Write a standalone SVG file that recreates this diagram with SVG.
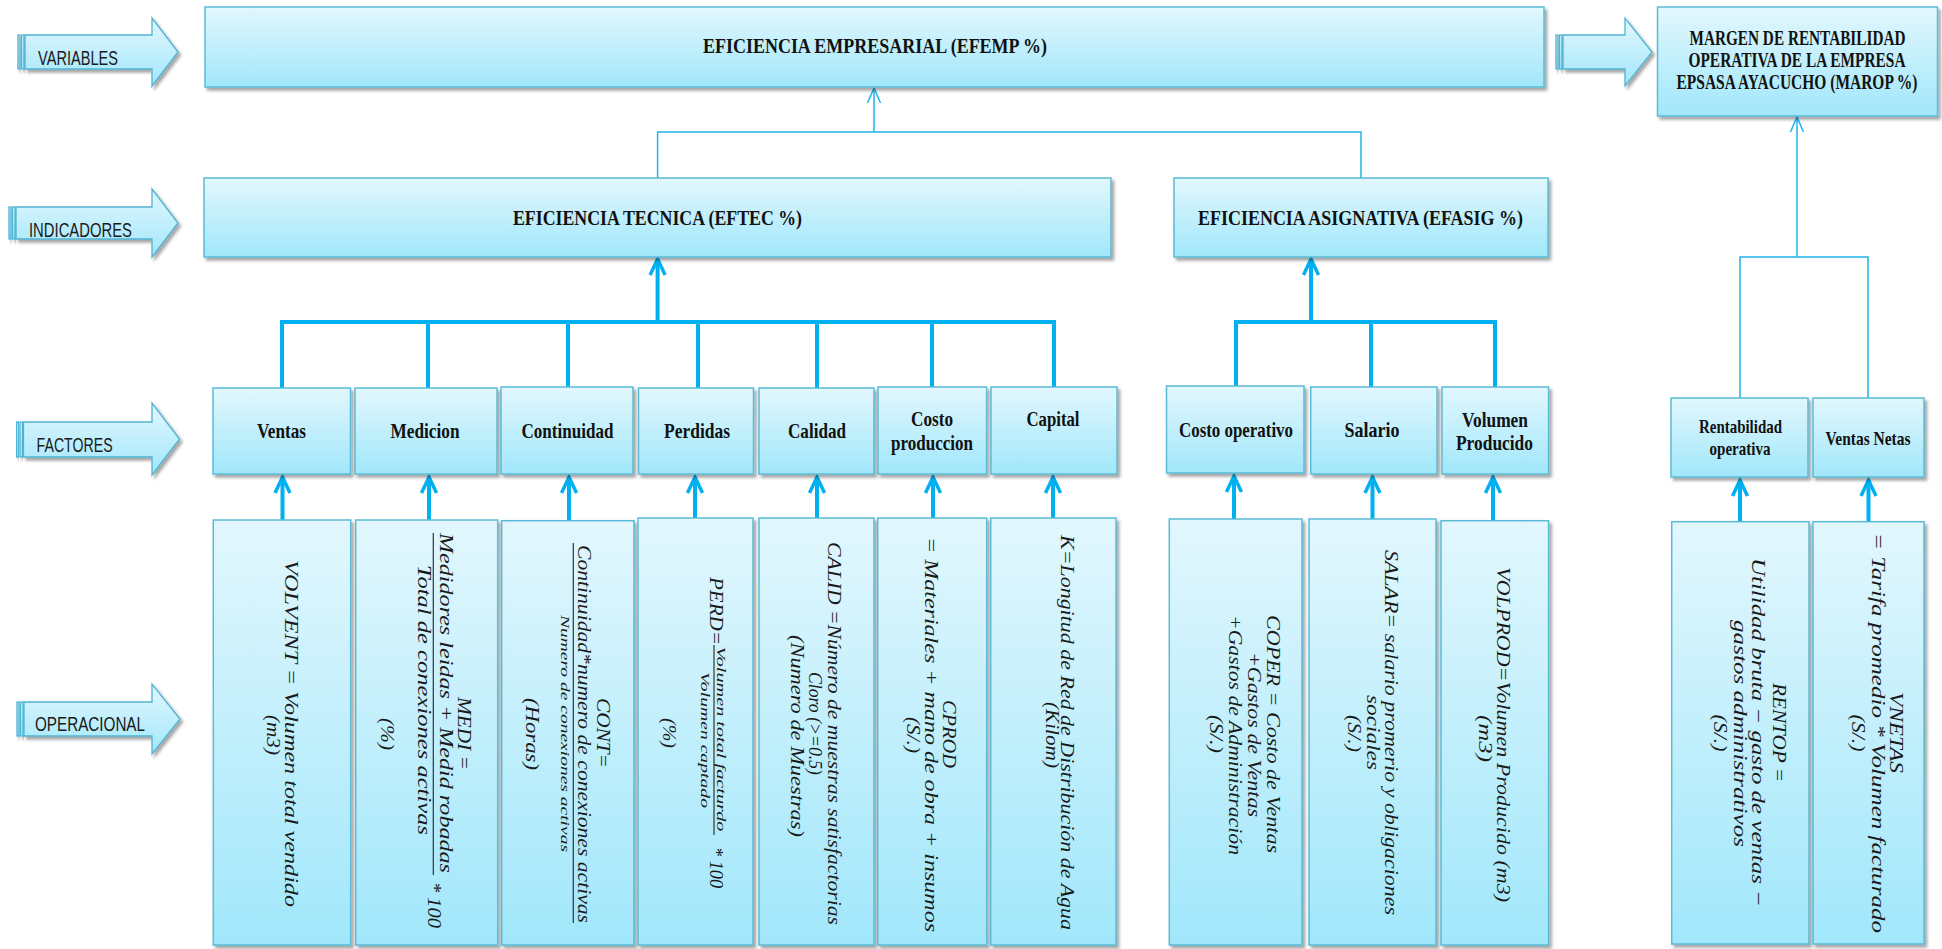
<svg xmlns="http://www.w3.org/2000/svg" width="1942" height="949" viewBox="0 0 1942 949">
<defs>
<linearGradient id="g" x1="0" y1="0" x2="0" y2="1">
<stop offset="0" stop-color="#e2f7fd"/>
<stop offset="1" stop-color="#a1e7fb"/>
</linearGradient>
<filter id="sh" x="-10%" y="-10%" width="130%" height="130%">
<feDropShadow dx="2.5" dy="3" stdDeviation="1.8" flood-color="#000" flood-opacity="0.35"/>
</filter>
<marker id="ah" markerUnits="userSpaceOnUse" markerWidth="40" markerHeight="40" viewBox="-20 -20 40 40" refX="0" refY="0" orient="auto" overflow="visible">
<path d="M -16 -7.5 L 0 0 L -16 7.5" fill="none" stroke="#00b0f0" stroke-width="3.5"/>
</marker>
<marker id="at" markerUnits="userSpaceOnUse" markerWidth="40" markerHeight="40" viewBox="-20 -20 40 40" refX="0" refY="0" orient="auto" overflow="visible">
<path d="M -15 -6.5 L 0 0 L -15 6.5" fill="none" stroke="#1fb4ea" stroke-width="1.5"/>
</marker>
</defs>
<style>
.box{fill:url(#g);stroke:#5bbad6;stroke-width:1.5;filter:url(#sh)}
.blk{fill:url(#g);stroke:#4fb3d2;stroke-width:1.3;filter:url(#sh)}
.t{font-family:"Liberation Serif","Times New Roman",serif;font-weight:bold;fill:#111;text-anchor:middle}
.m{font-family:"Liberation Serif","Times New Roman",serif;font-style:italic;fill:#1a1a1a;text-anchor:middle;font-size:19.5px}
.s{font-size:13px}
.lbl{font-family:"Liberation Sans",Arial,sans-serif;fill:#1a1a1a;font-size:20px}
.thick{stroke:#00b0f0;stroke-width:4;fill:none}
.thin{stroke:#1fb4ea;stroke-width:1.5;fill:none}
.bar{stroke:#333;stroke-width:1.2}
</style>
<rect width="1942" height="949" fill="#fff"/>

<!-- level arrows -->
<g id="arrow-variables">
<rect class="blk" x="18" y="35" width="2" height="34"/>
<rect class="blk" x="21.5" y="35" width="2.5" height="34"/>
<path class="blk" d="M25,35 H152 V18 L178,52 L152,86 V69 H25 Z"/>
<text class="lbl" x="38" y="65" textLength="80" lengthAdjust="spacingAndGlyphs">VARIABLES</text>
</g>
<g id="arrow-indicadores">
<rect class="blk" x="9" y="207" width="2" height="32"/>
<rect class="blk" x="12.5" y="207" width="2.5" height="32"/>
<path class="blk" d="M16,207 H152 V189 L178,223 L152,257 V239 H16 Z"/>
<text class="lbl" x="29" y="237" textLength="103" lengthAdjust="spacingAndGlyphs">INDICADORES</text>
</g>
<g id="arrow-factores">
<rect class="blk" x="16.5" y="422" width="2" height="35"/>
<rect class="blk" x="20" y="422" width="2.5" height="35"/>
<path class="blk" d="M23.5,422 H152 V403 L179.5,439 L152,475 V457 H23.5 Z"/>
<text class="lbl" x="36.6" y="452" textLength="76" lengthAdjust="spacingAndGlyphs">FACTORES</text>
</g>
<g id="arrow-operacional">
<rect class="blk" x="17" y="702" width="2" height="34"/>
<rect class="blk" x="20.5" y="702" width="2.5" height="34"/>
<path class="blk" d="M24,702 H152 V684 L180,719 L152,754 V736 H24 Z"/>
<text class="lbl" x="35" y="731" textLength="110" lengthAdjust="spacingAndGlyphs">OPERACIONAL</text>
</g>
<g id="arrow-marop">
<rect class="blk" x="1556" y="35" width="2" height="34"/>
<rect class="blk" x="1559.5" y="35" width="2.5" height="34"/>
<path class="blk" d="M1563,35 H1625 V18 L1652,52 L1625,86 V69 H1563 Z"/>
</g>

<!-- connectors -->
<g id="connectors">
<polyline class="thin" points="657.6,178 657.6,132 1361,132 1361,178"/>
<line class="thin" x1="874" y1="132" x2="874" y2="88" marker-end="url(#at)"/>
<polyline class="thin" points="1740,398 1740,257 1868,257 1868,398"/>
<line class="thin" x1="1797" y1="257" x2="1797" y2="117" marker-end="url(#at)"/>

<line class="thick" x1="657.6" y1="322" x2="657.6" y2="259" marker-end="url(#ah)"/>
<polyline class="thick" points="282,388 282,322 1054,322 1054,387"/>
<line class="thick" x1="428" y1="322" x2="428" y2="388"/>
<line class="thick" x1="568" y1="322" x2="568" y2="387"/>
<line class="thick" x1="698" y1="322" x2="698" y2="388"/>
<line class="thick" x1="817" y1="322" x2="817" y2="388"/>
<line class="thick" x1="932" y1="322" x2="932" y2="387"/>

<line class="thick" x1="1311" y1="322" x2="1311" y2="259" marker-end="url(#ah)"/>
<polyline class="thick" points="1236,386 1236,322 1495,322 1495,387"/>
<line class="thick" x1="1371" y1="322" x2="1371" y2="388"/>

<line class="thick" x1="282.5" y1="520" x2="282.5" y2="477" marker-end="url(#ah)"/>
<line class="thick" x1="429" y1="520" x2="429" y2="477" marker-end="url(#ah)"/>
<line class="thick" x1="569" y1="520" x2="569" y2="477" marker-end="url(#ah)"/>
<line class="thick" x1="695" y1="518" x2="695" y2="477" marker-end="url(#ah)"/>
<line class="thick" x1="817" y1="518" x2="817" y2="477" marker-end="url(#ah)"/>
<line class="thick" x1="933" y1="518" x2="933" y2="477" marker-end="url(#ah)"/>
<line class="thick" x1="1053" y1="518" x2="1053" y2="477" marker-end="url(#ah)"/>
<line class="thick" x1="1234" y1="519" x2="1234" y2="476" marker-end="url(#ah)"/>
<line class="thick" x1="1372.5" y1="519" x2="1372.5" y2="477" marker-end="url(#ah)"/>
<line class="thick" x1="1493" y1="520" x2="1493" y2="477" marker-end="url(#ah)"/>
<line class="thick" x1="1740" y1="521" x2="1740" y2="480" marker-end="url(#ah)"/>
<line class="thick" x1="1868.5" y1="521" x2="1868.5" y2="480" marker-end="url(#ah)"/>
</g>

<!-- variables / indicadores -->
<g id="n-efemp">
<rect class="box" x="205" y="7" width="1339" height="80"/>
<text class="t" x="875" y="53" font-size="22" textLength="344" lengthAdjust="spacingAndGlyphs">EFICIENCIA  EMPRESARIAL (EFEMP %)</text>
</g>
<g id="n-marop">
<rect class="box" x="1657.5" y="7" width="280" height="109"/>
<text class="t" transform="translate(1797.5,45) scale(1,1.18)" font-size="17" textLength="216" lengthAdjust="spacingAndGlyphs">MARGEN DE RENTABILIDAD</text>
<text class="t" transform="translate(1797,67) scale(1,1.18)" font-size="17" textLength="217" lengthAdjust="spacingAndGlyphs">OPERATIVA DE LA EMPRESA</text>
<text class="t" transform="translate(1797,89) scale(1,1.18)" font-size="17" textLength="241" lengthAdjust="spacingAndGlyphs">EPSASA AYACUCHO (MAROP %)</text>
</g>
<g id="n-eftec">
<rect class="box" x="204" y="178" width="907" height="79"/>
<text class="t" x="657.5" y="225" font-size="22" textLength="289" lengthAdjust="spacingAndGlyphs">EFICIENCIA TECNICA (EFTEC %)</text>
</g>
<g id="n-efasig">
<rect class="box" x="1174" y="178" width="374" height="79"/>
<text class="t" x="1360.5" y="225" font-size="22" textLength="325" lengthAdjust="spacingAndGlyphs">EFICIENCIA ASIGNATIVA (EFASIG %)</text>
</g>

<!-- factores -->
<g id="f-ventas">
<rect class="box" x="213" y="388" width="137.5" height="86"/>
<text class="t" x="281.5" y="438" font-size="21" textLength="49" lengthAdjust="spacingAndGlyphs">Ventas</text>
</g>
<g id="f-medicion">
<rect class="box" x="355" y="388" width="142" height="86"/>
<text class="t" x="425" y="438" font-size="21" textLength="69" lengthAdjust="spacingAndGlyphs">Medicion</text>
</g>
<g id="f-continuidad">
<rect class="box" x="501" y="387" width="132" height="87"/>
<text class="t" x="567.5" y="438" font-size="21" textLength="92" lengthAdjust="spacingAndGlyphs">Continuidad</text>
</g>
<g id="f-perdidas">
<rect class="box" x="638.5" y="388" width="115" height="86"/>
<text class="t" x="697" y="438" font-size="21" textLength="66" lengthAdjust="spacingAndGlyphs">Perdidas</text>
</g>
<g id="f-calidad">
<rect class="box" x="759" y="388" width="115" height="86"/>
<text class="t" x="817" y="438" font-size="21" textLength="58" lengthAdjust="spacingAndGlyphs">Calidad</text>
</g>
<g id="f-costoprod">
<rect class="box" x="878" y="387" width="108.6" height="87"/>
<text class="t" x="932" y="426" font-size="21" textLength="42" lengthAdjust="spacingAndGlyphs">Costo</text>
<text class="t" x="932" y="450" font-size="21" textLength="82" lengthAdjust="spacingAndGlyphs">produccion</text>
</g>
<g id="f-capital">
<rect class="box" x="991" y="387" width="126" height="87"/>
<text class="t" x="1053" y="426" font-size="21" textLength="53" lengthAdjust="spacingAndGlyphs">Capital</text>
</g>
<g id="f-costoop">
<rect class="box" x="1166.5" y="386" width="137.5" height="87"/>
<text class="t" x="1236" y="437" font-size="21" textLength="114" lengthAdjust="spacingAndGlyphs">Costo operativo</text>
</g>
<g id="f-salario">
<rect class="box" x="1310.7" y="387" width="126.3" height="87"/>
<text class="t" x="1372" y="437" font-size="21" textLength="55" lengthAdjust="spacingAndGlyphs">Salario</text>
</g>
<g id="f-volumen">
<rect class="box" x="1442" y="387" width="106.6" height="87"/>
<text class="t" x="1495" y="427" font-size="21" textLength="66" lengthAdjust="spacingAndGlyphs">Volumen</text>
<text class="t" x="1494.5" y="450" font-size="21" textLength="77" lengthAdjust="spacingAndGlyphs">Producido</text>
</g>
<g id="f-rentabilidad">
<rect class="box" x="1671" y="398" width="137" height="79"/>
<text class="t" x="1740.5" y="433" font-size="19" textLength="83" lengthAdjust="spacingAndGlyphs">Rentabilidad</text>
<text class="t" x="1740" y="455" font-size="19" textLength="61" lengthAdjust="spacingAndGlyphs">operativa</text>
</g>
<g id="f-ventasnetas">
<rect class="box" x="1813" y="398" width="111" height="79"/>
<text class="t" x="1868" y="445" font-size="19" textLength="85" lengthAdjust="spacingAndGlyphs">Ventas Netas</text>
</g>

<!-- operacional -->
<g id="o-volvent">
<rect class="box" x="213.3" y="520" width="137.4" height="425"/>
<text class="m" transform="translate(285,733.5) rotate(90)" textLength="347" lengthAdjust="spacingAndGlyphs">VOLVENT = Volumen total vendido</text>
<text class="m" transform="translate(267,735) rotate(90)" textLength="40" lengthAdjust="spacingAndGlyphs">(m3)</text>
</g>
<g id="o-medi">
<rect class="box" x="355.7" y="520" width="142" height="425"/>
<text class="m" transform="translate(458,733.5) rotate(90)" textLength="73" lengthAdjust="spacingAndGlyphs">MEDI =</text>
<text class="m" transform="translate(440,703) rotate(90)" textLength="340" lengthAdjust="spacingAndGlyphs">Medidores leidas + Medid robadas</text>
<line class="bar" x1="433.3" y1="533" x2="433.3" y2="875"/>
<text class="m" transform="translate(418,700) rotate(90)" textLength="270" lengthAdjust="spacingAndGlyphs">Total de conexiones activas</text>
<text class="m" transform="translate(428,905) rotate(90)" textLength="46" lengthAdjust="spacingAndGlyphs">* 100</text>
<text class="m" transform="translate(381,734) rotate(90)" textLength="32" lengthAdjust="spacingAndGlyphs">(%)</text>
</g>
<g id="o-cont">
<rect class="box" x="501.7" y="520.7" width="132.3" height="424.3"/>
<text class="m" transform="translate(597,733) rotate(90)" textLength="70" lengthAdjust="spacingAndGlyphs">CONT=</text>
<text class="m" transform="translate(578,734) rotate(90)" textLength="378" lengthAdjust="spacingAndGlyphs">Continuidad*numero de conexiones activas</text>
<line class="bar" x1="573.3" y1="543" x2="573.3" y2="923"/>
<text class="m s" style="font-size:12px" transform="translate(561,733.5) rotate(90)" textLength="237" lengthAdjust="spacingAndGlyphs">Numero de conexiones activas</text>
<text class="m" transform="translate(526,734) rotate(90)" textLength="72" lengthAdjust="spacingAndGlyphs">(Horas)</text>
</g>
<g id="o-perd">
<rect class="box" x="638" y="518" width="115" height="427"/>
<text class="m" transform="translate(710,611) rotate(90)" textLength="68" lengthAdjust="spacingAndGlyphs">PERD=</text>
<text class="m s" transform="translate(717,739) rotate(90)" textLength="185" lengthAdjust="spacingAndGlyphs">Volumen total facturdo</text>
<line class="bar" x1="714" y1="645" x2="714" y2="835"/>
<text class="m s" transform="translate(701,740) rotate(90)" textLength="136" lengthAdjust="spacingAndGlyphs">Volumen captado</text>
<text class="m" transform="translate(710,867.5) rotate(90)" textLength="41" lengthAdjust="spacingAndGlyphs">* 100</text>
<text class="m" transform="translate(663,733) rotate(90)" textLength="30" lengthAdjust="spacingAndGlyphs">(%)</text>
</g>
<g id="o-calid">
<rect class="box" x="759" y="518" width="115" height="427"/>
<text class="m" transform="translate(828,733.5) rotate(90)" textLength="383" lengthAdjust="spacingAndGlyphs">CALID =Número de muestras satisfactorias</text>
<text class="m" transform="translate(809,723.5) rotate(90)" textLength="103" lengthAdjust="spacingAndGlyphs">Cloro (&gt;=0.5)</text>
<text class="m" transform="translate(791,736) rotate(90)" textLength="202" lengthAdjust="spacingAndGlyphs">(Numero de Muestras)</text>
</g>
<g id="o-cprod">
<rect class="box" x="877.7" y="518" width="109" height="427"/>
<text class="m" transform="translate(943,734) rotate(90)" textLength="68" lengthAdjust="spacingAndGlyphs">CPROD</text>
<text class="m" transform="translate(925,734.5) rotate(90)" textLength="395" lengthAdjust="spacingAndGlyphs">= Materiales + mano de obra + insumos</text>
<text class="m" transform="translate(907,735) rotate(90)" textLength="36" lengthAdjust="spacingAndGlyphs">(S/.)</text>
</g>
<g id="o-k">
<rect class="box" x="990.7" y="518" width="125.3" height="427"/>
<text class="m" transform="translate(1061,732.5) rotate(90)" textLength="395" lengthAdjust="spacingAndGlyphs">K=Longitud de Red de Distribución de Agua</text>
<text class="m" transform="translate(1046,735) rotate(90)" textLength="66" lengthAdjust="spacingAndGlyphs">(Kilom)</text>
</g>
<g id="o-coper">
<rect class="box" x="1169.3" y="519" width="132.7" height="426"/>
<text class="m" transform="translate(1267,734) rotate(90)" textLength="238" lengthAdjust="spacingAndGlyphs">COPER = Costo de Ventas</text>
<text class="m" transform="translate(1248,734.5) rotate(90)" textLength="165" lengthAdjust="spacingAndGlyphs">+Gastos de Ventas</text>
<text class="m" transform="translate(1229,735) rotate(90)" textLength="240" lengthAdjust="spacingAndGlyphs">+Gastos de Administración</text>
<text class="m" transform="translate(1210,734) rotate(90)" textLength="38" lengthAdjust="spacingAndGlyphs">(S/.)</text>
</g>
<g id="o-salar">
<rect class="box" x="1309" y="519" width="127" height="426"/>
<text class="m" transform="translate(1385,732.5) rotate(90)" textLength="365" lengthAdjust="spacingAndGlyphs">SALAR= salario promerio y obligaciones</text>
<text class="m" transform="translate(1367,732.5) rotate(90)" textLength="75" lengthAdjust="spacingAndGlyphs">sociales</text>
<text class="m" transform="translate(1348,733.5) rotate(90)" textLength="37" lengthAdjust="spacingAndGlyphs">(S/.)</text>
</g>
<g id="o-volprod">
<rect class="box" x="1441" y="520.7" width="107.6" height="424.3"/>
<text class="m" transform="translate(1497,734.5) rotate(90)" textLength="335" lengthAdjust="spacingAndGlyphs">VOLPROD=Volumen Producido (m3)</text>
<text class="m" transform="translate(1479,738.5) rotate(90)" textLength="47" lengthAdjust="spacingAndGlyphs">(m3)</text>
</g>
<g id="o-rentop">
<rect class="box" x="1671.7" y="521.7" width="137.3" height="422.3"/>
<text class="m" transform="translate(1773,732.5) rotate(90)" textLength="99" lengthAdjust="spacingAndGlyphs">RENTOP =</text>
<text class="m" transform="translate(1752,732.5) rotate(90)" textLength="349" lengthAdjust="spacingAndGlyphs">Utilidad bruta − gasto de ventas −</text>
<text class="m" transform="translate(1734,733.5) rotate(90)" textLength="227" lengthAdjust="spacingAndGlyphs">gastos administrativos</text>
<text class="m" transform="translate(1714,733) rotate(90)" textLength="37" lengthAdjust="spacingAndGlyphs">(S/.)</text>
</g>
<g id="o-vnetas">
<rect class="box" x="1813" y="521.7" width="111" height="422.3"/>
<text class="m" transform="translate(1890,732.5) rotate(90)" textLength="81" lengthAdjust="spacingAndGlyphs">VNETAS</text>
<text class="m" transform="translate(1872,733) rotate(90)" textLength="400" lengthAdjust="spacingAndGlyphs">= Tarifa promedio * Volumen facturado</text>
<text class="m" transform="translate(1852,733) rotate(90)" textLength="37" lengthAdjust="spacingAndGlyphs">(S/.)</text>
</g>
</svg>
